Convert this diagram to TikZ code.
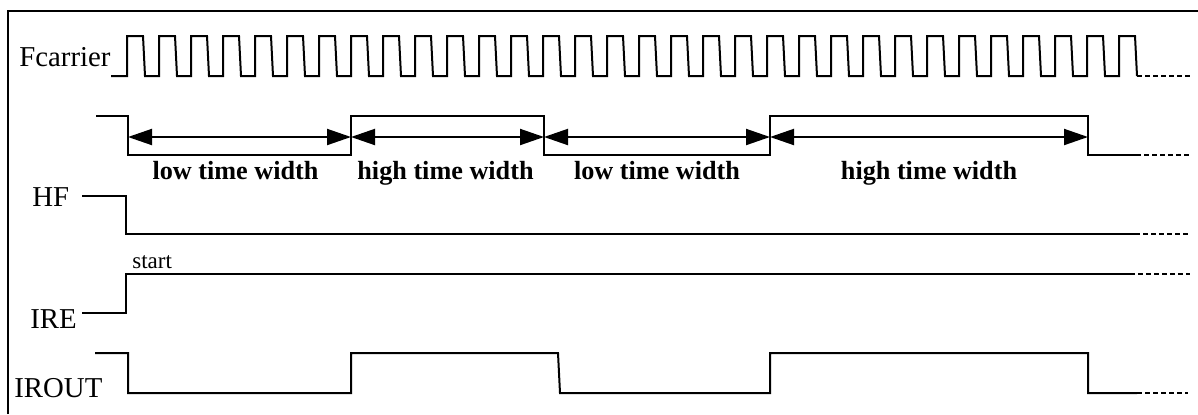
\documentclass[tikz,border=0pt]{standalone}
\usepackage{fontspec}
\setmainfont{Liberation Serif}
\usetikzlibrary{arrows.meta,positioning}

\begin{document}
\begin{tikzpicture}[
				x=0.5pt, y=-0.5pt,
				wave/.style={line width=1pt, line join=miter},
				tail/.style={line width=1.1pt, dash pattern=on 2.5pt off 1.5pt},
				span/.style={line width=1pt, {Triangle[length=12pt,width=8pt]}-{Triangle[length=12pt,width=8pt]}},
				signame/.style={font=\fontsize{14.4}{16}\selectfont, inner sep=0pt, anchor=base west},
				spanlabel/.style={font=\bfseries\fontsize{13.1}{15}\selectfont, inner sep=0pt},
			]
				\useasboundingbox (0,0) rectangle (1198,414);
				\draw[line width=1pt] (8,414) |- (1198,11);

				\node[signame] (fcarrier) at (19,66) {Fcarrier};
				\node[signame] (hf) at (32,206) {HF};
				\node[signame] (ire) at (30,328) {IRE};
				\node[signame] (irout) at (14,397) {IROUT};
				\node[signame, font=\fontsize{11.5}{13}\selectfont] (start) at (132,268) {start};

				\coordinate (fc end) at (1137,76);
				\draw[wave] (111,76)
					\foreach \k in {0,...,31} {
						-- ({127+32*\k},76) -- ({127+32*\k},36) -- ({143+32*\k},36) -- ({145+32*\k},76)
					};
				\draw[tail] (fc end) -- (1190,76);

				\coordinate (t0) at (128,137);
				\coordinate (t1) at (351,137);
				\coordinate (t2) at (544,137);
				\coordinate (t3) at (770,137);
				\coordinate (t4) at (1088,137);
				\coordinate (gate end) at (1136,155);
				\draw[wave] (96,116) -- (128,116) -- (128,155) -- (351,155) -- (351,116) -- (544,116)
					-- (544,155) -- (770,155) -- (770,116) -- (1088,116) -- (1088,155) -- (gate end);
				\draw[tail] (gate end) -- (1190,155);

				\draw[span] (t0) -- node[spanlabel, below=11.5pt, xshift=-2pt] {low time width} (t1);
				\draw[span] (t1) -- node[spanlabel, below=11.5pt, xshift=-1pt] {high time width} (t2);
				\draw[span] (t2) -- node[spanlabel, below=11.5pt] {low time width} (t3);
				\draw[span] (t3) -- node[spanlabel, below=11.5pt] {high time width} (t4);

				\coordinate (hf end) at (1135,234);
				\draw[wave] (82,196) -- (126,196) -- (126,234) -- (hf end);
				\draw[tail] (hf end) -- (1190,234);

				\coordinate (ire end) at (1130,274);
				\draw[wave] (82,313) -- (126,313) -- (126,274) -- (ire end);
				\draw[tail] (ire end) -- (1190,274);

				\coordinate (irout end) at (1137,393);
				\draw[wave] (95,353) -- (128,353) -- (128,393) -- (351,393) -- (351,353) -- (558,353)
					-- (560,393) -- (770,393) -- (770,353) -- (1088,353) -- (1088,393) -- (irout end);
				\draw[tail] (irout end) -- (1188,393);
			\end{tikzpicture}
\end{document}
